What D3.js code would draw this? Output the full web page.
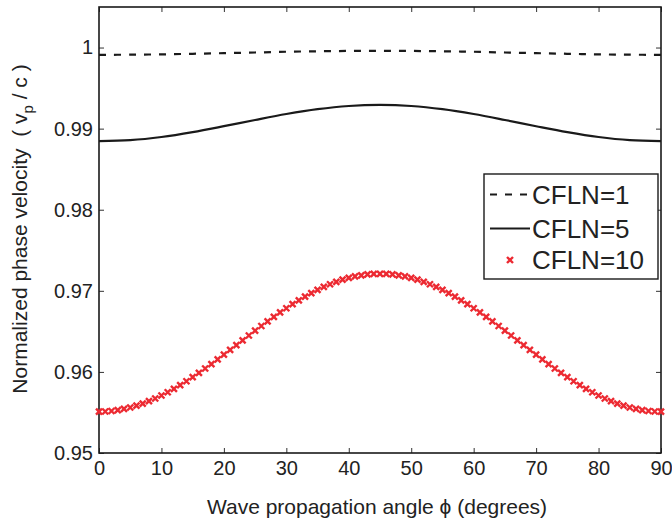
<!DOCTYPE html>
<html>
<head>
<meta charset="utf-8">
<script src="https://cdn.jsdelivr.net/npm/d3@7"></script>
<style>
  body { margin: 0; background: #fff; }
  svg { display: block; font-family: "Liberation Sans", Arial, sans-serif; }
</style>
</head>
<body>
<svg id="chart" width="672" height="521"></svg>
<script>
// ---- data ----
const seriesNames = ["CFLN=1", "CFLN=5", "CFLN=10"];
const xTicks = [0, 10, 20, 30, 40, 50, 60, 70, 80, 90];
const yTicks = [0.95, 0.96, 0.97, 0.98, 0.99, 1];
const yTickLabels = ["0.95", "0.96", "0.97", "0.98", "0.99", "1"];

// lines sampled every 5 degrees
const angles5 = [0,5,10,15,20,25,30,35,40,45,50,55,60,65,70,75,80,85,90];
const cfln1 = [0.99910,0.99912,0.99916,0.99923,0.99931,0.99939,0.99948,0.99954,0.99958,0.99960,
               0.99958,0.99954,0.99948,0.99939,0.99931,0.99923,0.99916,0.99912,0.99910];
const cfln5 = [0.98845,0.98858,0.98897,0.98957,0.99030,0.99107,0.99180,0.99240,0.99279,0.99292,
               0.99279,0.99240,0.99180,0.99107,0.99030,0.98957,0.98897,0.98858,0.98845];

// markers every degree
const angles1 = d3.range(0, 91);
const cfln10 = [
  0.95510,0.95512,0.95518,0.95529,0.95543,0.95561,0.95584,0.95610,0.95639,0.95672,
  0.95709,0.95749,0.95791,0.95837,0.95885,0.95935,0.95987,0.96042,0.96097,0.96154,
  0.96212,0.96271,0.96330,0.96390,0.96449,0.96508,0.96566,0.96623,0.96678,0.96733,
  0.96785,0.96835,0.96883,0.96929,0.96971,0.97011,0.97048,0.97081,0.97110,0.97137,
  0.97159,0.97177,0.97191,0.97202,0.97208,0.97210,0.97208,0.97202,0.97191,0.97177,
  0.97159,0.97137,0.97110,0.97081,0.97048,0.97011,0.96971,0.96929,0.96883,0.96835,
  0.96785,0.96733,0.96678,0.96623,0.96566,0.96508,0.96449,0.96390,0.96330,0.96271,
  0.96212,0.96154,0.96097,0.96042,0.95987,0.95935,0.95885,0.95837,0.95791,0.95749,
  0.95709,0.95672,0.95639,0.95610,0.95584,0.95561,0.95543,0.95529,0.95518,0.95512,
  0.95510
];

// ---- layout ----
const L = 99, R = 661, T = 7, B = 453;
const svg = d3.select("#chart");
const x = d3.scaleLinear().domain([0, 90]).range([L, R]);
const y = d3.scaleLinear().domain([0.95, 1.005]).range([B, T]);
const textCol = "#222";
const red = "#ec2a32";

// axes
const xAxisB = d3.axisBottom(x).tickValues(xTicks).tickSize(-5).tickPadding(8).tickFormat(d3.format("d"));
const xAxisT = d3.axisTop(x).tickValues(xTicks).tickSize(-5).tickFormat("");
const yAxisL = d3.axisLeft(y).tickValues(yTicks).tickSize(-5).tickPadding(6).tickFormat((d, i) => yTickLabels[i]);
const yAxisR = d3.axisRight(y).tickValues(yTicks).tickSize(-5).tickFormat("");

function styleAxis(g) {
  g.select(".domain").remove();
  g.selectAll(".tick line").attr("stroke", "#333").attr("stroke-width", 1);
  g.selectAll(".tick text").attr("fill", textCol).style("font-size", "20px").style("font-family", "Liberation Sans, Arial, sans-serif");
}
svg.append("g").attr("transform", `translate(0,${B})`).call(xAxisB).call(styleAxis);
svg.append("g").attr("transform", `translate(0,${T})`).call(xAxisT).call(styleAxis);
svg.append("g").attr("transform", `translate(${L},0)`).call(yAxisL).call(styleAxis);
svg.append("g").attr("transform", `translate(${R},0)`).call(yAxisR).call(styleAxis);

// box
svg.append("rect").attr("x", L).attr("y", T).attr("width", R - L).attr("height", B - T)
  .attr("fill", "none").attr("stroke", "#1a1a1a").attr("stroke-width", 1.6);

// lines
const line = d3.line().x(d => x(d[0])).y(d => y(d[1])).curve(d3.curveCatmullRom);
svg.append("path").datum(angles5.map((a, i) => [a, cfln1[i]]))
  .attr("d", line).attr("fill", "none").attr("stroke", "#1a1a1a").attr("stroke-width", 2.2)
  .attr("stroke-dasharray", "7,8");
svg.append("path").datum(angles5.map((a, i) => [a, cfln5[i]]))
  .attr("d", line).attr("fill", "none").attr("stroke", "#1a1a1a").attr("stroke-width", 2.2);

// markers
const ms = 3;
function cross(g, cx, cy) {
  g.append("path")
    .attr("d", `M${cx - ms},${cy - ms}L${cx + ms},${cy + ms}M${cx - ms},${cy + ms}L${cx + ms},${cy - ms}`)
    .attr("stroke", red).attr("stroke-width", 2.4).attr("fill", "none");
}
const mg = svg.append("g");
angles1.forEach((a, i) => cross(mg, x(a), y(cfln10[i])));

// legend
const lg = svg.append("g");
lg.append("rect").attr("x", 484).attr("y", 174).attr("width", 174).attr("height", 105)
  .attr("fill", "#fff").attr("stroke", "#1a1a1a").attr("stroke-width", 1.4);
const rows = [194.5, 228.5, 260];
lg.append("line").attr("x1", 490).attr("x2", 530).attr("y1", rows[0]).attr("y2", rows[0])
  .attr("stroke", "#1a1a1a").attr("stroke-width", 2.2).attr("stroke-dasharray", "7,8");
lg.append("line").attr("x1", 490).attr("x2", 530).attr("y1", rows[1]).attr("y2", rows[1])
  .attr("stroke", "#1a1a1a").attr("stroke-width", 2.2);
cross(lg, 510, rows[2]);
seriesNames.forEach((n, i) => {
  lg.append("text").attr("x", 532).attr("y", rows[i]).attr("dy", "0.36em")
    .attr("fill", textCol).style("font-size", "26px").text(n);
});

// axis labels
svg.append("text").attr("x", (L + R) / 2 - 3).attr("y", 514)
  .attr("text-anchor", "middle").attr("fill", textCol).style("font-size", "21px")
  .text("Wave propagation angle \u03D5 (degrees)");

const yl = svg.append("text").attr("transform", `translate(27,${(T + B) / 2 - 1}) rotate(-90)`)
  .attr("text-anchor", "middle").attr("fill", textCol).style("font-size", "21px");
yl.append("tspan").text("Normalized phase velocity \u00A0( v");
yl.append("tspan").attr("dy", 6).style("font-size", "15px").text("p");
yl.append("tspan").attr("dy", -6).text(" / c )");
</script>
</body>
</html>
